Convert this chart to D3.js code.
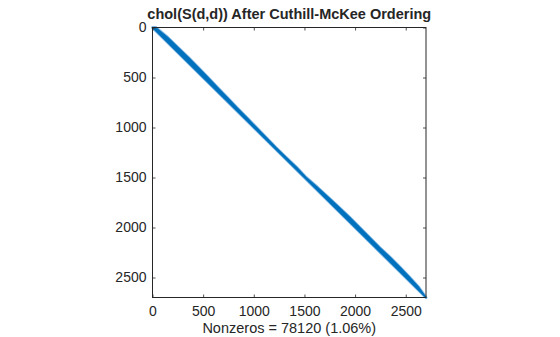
<!DOCTYPE html>
<html>
<head>
<meta charset="utf-8">
<script src="https://cdn.jsdelivr.net/npm/d3@7"></script>
<style>
  body { margin: 0; background: #fff; }
  svg { display: block; }
  text { font-family: "Liberation Sans", Arial, Helvetica, sans-serif; fill: #262626; }
</style>
</head>
<body>
<script>
var width = 560,
    height = 337;

// matrix size and the upper band profile of the Cholesky factor
var matrixSize = 2700;
var rows      = [0, 100, 200, 300, 400, 500, 600, 700, 800, 900, 1000, 1100, 1200, 1300,
                 1400, 1500, 1600, 1700, 1800, 1900, 2000, 2100, 2200, 2300, 2400, 2500, 2600, 2700];
var bandwidth = [30, 50, 52, 55, 52, 48, 42, 38, 32, 30, 26, 22, 18, 20,
                 24, 16, 30, 38, 44, 48, 46, 44, 42, 48, 46, 40, 30, 0];
var xTicks = [0, 500, 1000, 1500, 2000, 2500],
    yTicks = [0, 500, 1000, 1500, 2000, 2500];
var title  = "chol(S(d,d)) After Cuthill-McKee Ordering",
    xLabel = "Nonzeros = 78120 (1.06%)";

var x = d3.scaleLinear().domain([0, matrixSize]).range([152.5, 426]),
    y = d3.scaleLinear().domain([0, matrixSize]).range([27.5, 297.5]);

var svg = d3.select("body").append("svg").attr("width", width).attr("height", height);
svg.append("rect").attr("width", width).attr("height", height).attr("fill", "#fff");

var profile = rows.map(function(r, i) { return {row: r, b: bandwidth[i]}; });

// band polygon: diagonal as lower edge, row + bandwidth as upper edge
var band = profile.map(function(d) { return [x(d.row), y(d.row)]; })
  .concat(profile.slice().reverse().map(function(d) {
    return [x(Math.min(d.row + d.b, matrixSize)), y(d.row)];
  }));
var line = d3.line().curve(d3.curveLinear);

var plot = svg.append("g");
plot.append("path")
  .attr("d", line(band) + "Z")
  .attr("fill", "#6aa9de")
  .attr("stroke", "#7fb5e3")
  .attr("stroke-width", 3)
  .attr("stroke-linejoin", "round");
plot.append("path")
  .attr("d", line(band) + "Z")
  .attr("fill", "#0072BD")
  .attr("stroke", "#0072BD")
  .attr("stroke-width", 1.2)
  .attr("stroke-linejoin", "round");

// axes, ticks pointing inward as in MATLAB
var fmt = d3.format("d");
var axB = svg.append("g").attr("transform", "translate(0," + y(matrixSize) + ")")
  .call(d3.axisBottom(x).tickValues(xTicks).tickSizeInner(-3).tickSizeOuter(0).tickPadding(9).tickFormat(fmt));
var axT = svg.append("g").attr("transform", "translate(0," + y(0) + ")")
  .call(d3.axisTop(x).tickValues(xTicks).tickSizeInner(-3).tickSizeOuter(0).tickFormat(""));
var axL = svg.append("g").attr("transform", "translate(" + x(0) + ",0)")
  .call(d3.axisLeft(y).tickValues(yTicks).tickSizeInner(-3).tickSizeOuter(0).tickPadding(6).tickFormat(fmt));
var axR = svg.append("g").attr("transform", "translate(" + x(matrixSize) + ",0)")
  .call(d3.axisRight(y).tickValues(yTicks).tickSizeInner(-3).tickSizeOuter(0).tickFormat(""));

[axB, axT, axL, axR].forEach(function(a) {
  a.select(".domain").remove();
  a.selectAll("line").attr("stroke", "#262626").attr("stroke-width", 0.8);
  a.selectAll("text").attr("font-size", "14px").attr("fill", "#262626")
    .style("font-family", "Liberation Sans, Arial, sans-serif");
});

svg.append("rect")
  .attr("x", x(0)).attr("y", y(0))
  .attr("width", x(matrixSize) - x(0)).attr("height", y(matrixSize) - y(0))
  .attr("fill", "none").attr("stroke", "#262626").attr("stroke-width", 1);

svg.append("text")
  .attr("x", (x(0) + x(matrixSize)) / 2).attr("y", 18.5)
  .attr("text-anchor", "middle")
  .attr("font-size", "14.5px").attr("font-weight", "bold")
  .attr("fill", "#000")
  .text(title);

svg.append("text")
  .attr("x", (x(0) + x(matrixSize)) / 2).attr("y", 333)
  .attr("text-anchor", "middle")
  .attr("font-size", "14.5px")
  .text(xLabel);
</script>
</body>
</html>
